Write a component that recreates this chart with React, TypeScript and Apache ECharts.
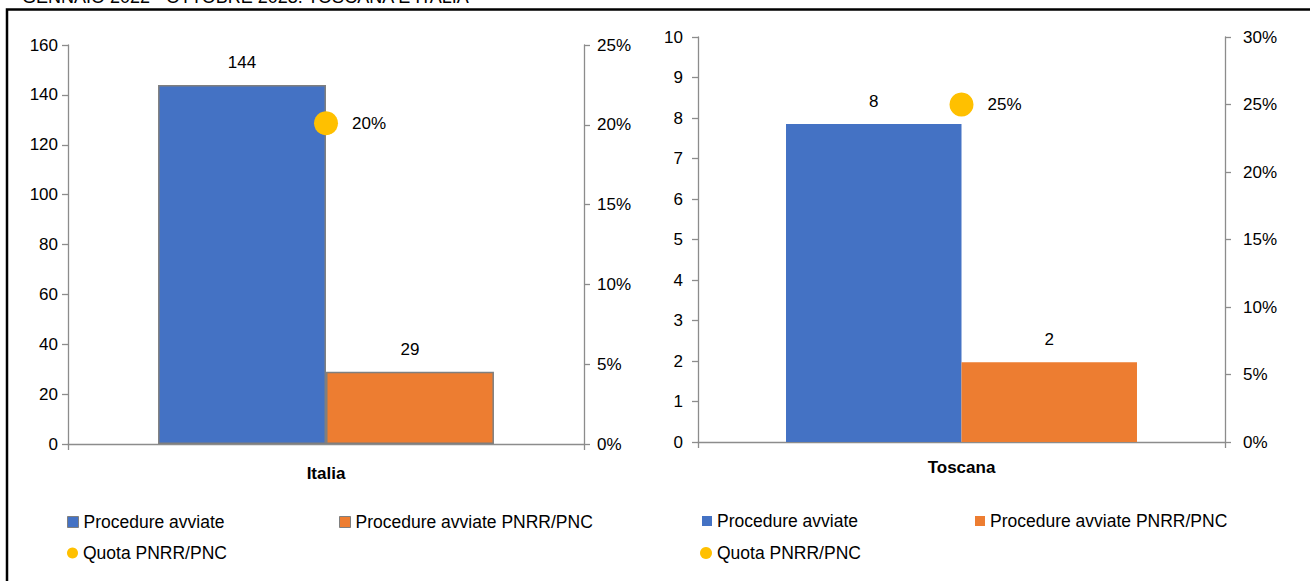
import React, { useEffect, useRef } from "react";
import * as echarts from "echarts";

const FONT = "'Liberation Sans', Arial, sans-serif";

const titleText = "GENNAIO 2022 - OTTOBRE 2023. TOSCANA E ITALIA";
const seriesNames = ["Procedure avviate", "Procedure avviate PNRR/PNC", "Quota PNRR/PNC"];

const italiaCategories = ["Italia"];
const italiaProcedure = [144];
const italiaPnrr = [29];
const italiaQuota = [0.201];

const toscanaCategories = ["Toscana"];
const toscanaProcedure = [7.85];
const toscanaPnrr = [1.97];
const toscanaQuota = [0.25];

const BLUE = "#4472C4";
const ORANGE = "#ED7D31";
const YELLOW = "#FFC000";
const AXIS = "#8c8c8c";

const pct = (v: number) => Math.round(v * 100) + "%";

function valueAxis(gridIndex: number, position: string, max: number, interval: number, isPct: boolean, margin: number) {
  return {
    type: "value",
    gridIndex,
    position,
    min: 0,
    max,
    interval,
    splitLine: { show: false },
    axisLine: { show: true, lineStyle: { color: AXIS, width: 1.3 } },
    axisTick: { show: true, length: 6, inside: false, lineStyle: { color: AXIS, width: 1.3 } },
    axisLabel: {
      color: "#000",
      fontSize: 17,
      fontFamily: FONT,
      margin,
      formatter: isPct ? (v: number) => pct(v) : (v: number) => String(v),
    },
  };
}

function catAxis(gridIndex: number, data: string[], margin: number) {
  return {
    type: "category",
    gridIndex,
    data,
    boundaryGap: true,
    axisLine: { show: true, lineStyle: { color: AXIS, width: 1.3 } },
    axisTick: { show: true, length: 6, alignWithLabel: false, lineStyle: { color: AXIS, width: 1.3 } },
    axisLabel: { color: "#000", fontSize: 17, fontWeight: "bold", fontFamily: FONT, margin },
  };
}

function barSeries(name: string, data: number[], color: string, axisIdx: number, yIdx: number, bordered: boolean, gap: string) {
  return {
    name,
    type: "bar",
    xAxisIndex: axisIdx,
    yAxisIndex: yIdx,
    data,
    barGap: "0%",
    barCategoryGap: gap,
    itemStyle: bordered
      ? { color, borderColor: "#7f7f7f", borderWidth: 1.5 }
      : { color, borderWidth: 0 },
    label: {
      show: true,
      position: "top",
      distance: 14,
      color: "#000",
      fontSize: 17,
      fontFamily: FONT,
      formatter: (p: any) => String(Math.round(p.value)),
    },
  };
}

function scatterSeries(data: number[], axisIdx: number, yIdx: number) {
  return {
    name: seriesNames[2],
    type: "scatter",
    xAxisIndex: axisIdx,
    yAxisIndex: yIdx,
    data,
    symbolSize: 24,
    itemStyle: { color: YELLOW, opacity: 1 },
    z: 5,
    label: {
      show: true,
      position: "right",
      distance: 14,
      color: "#000",
      opacity: 1,
      fontSize: 17,
      fontFamily: FONT,
      formatter: (p: any) => pct(p.value),
    },
  };
}

function legendItem(left: number, centerY: number, name: string, icon: string, itemStyle: any, size: number) {
  return {
    left,
    top: centerY - 9,
    padding: 0,
    selectedMode: false,
    itemWidth: size,
    itemHeight: size,
    data: [{ name, icon, itemStyle }],
    textStyle: { color: "#000", fontSize: 17.5, fontFamily: FONT, lineHeight: 18 },
  };
}

export default function App() {
  const ref = useRef<HTMLDivElement>(null);
  useEffect(() => {
    if (!ref.current) return;
    const chart = echarts.init(ref.current, undefined, { renderer: "svg" });
    const option: any = {
      animation: false,
      backgroundColor: "#ffffff",
      textStyle: { fontFamily: FONT },
      grid: [
        { left: 68, top: 45, width: 516, height: 399 },
        { left: 698, top: 37, width: 527, height: 405 },
      ],
      xAxis: [catAxis(0, italiaCategories, 21), catAxis(1, toscanaCategories, 17)],
      yAxis: [
        valueAxis(0, "left", 160, 20, false, 10),
        valueAxis(0, "right", 0.25, 0.05, true, 13),
        valueAxis(1, "left", 10, 1, false, 15),
        valueAxis(1, "right", 0.3, 0.05, true, 18),
      ],
      legend: [
        legendItem(67, 522, seriesNames[0], "rect", { color: BLUE, borderColor: "#7f7f7f", borderWidth: 1 }, 11),
        legendItem(339, 522, seriesNames[1], "rect", { color: ORANGE, borderColor: "#7f7f7f", borderWidth: 1 }, 11),
        legendItem(67, 553, seriesNames[2], "circle", { color: YELLOW, borderWidth: 0 }, 11),
        legendItem(702, 521, seriesNames[0], "rect", { color: BLUE, borderWidth: 0, borderColor: BLUE }, 10),
        legendItem(975, 521, seriesNames[1], "rect", { color: ORANGE, borderWidth: 0, borderColor: ORANGE }, 10),
        legendItem(700, 553, seriesNames[2], "circle", { color: YELLOW, borderWidth: 0 }, 12),
      ],
      graphic: [
        {
          type: "rect",
          z: -1,
          shape: { x: 7, y: 9.5, width: 1400, height: 700 },
          style: { fill: "none", stroke: "#000", lineWidth: 2.5 },
          silent: true,
        },
        {
          type: "text",
          x: 22,
          y: -3,
          style: {
            text: titleText,
            fontSize: 18,
            fontFamily: FONT,
            fill: "#000",
            verticalAlign: "middle",
          },
          silent: true,
        },
      ],
      series: [
        barSeries(seriesNames[0], italiaProcedure, BLUE, 0, 0, true, "34.9%"),
        barSeries(seriesNames[1], italiaPnrr, ORANGE, 0, 0, true, "34.9%"),
        scatterSeries(italiaQuota, 0, 1),
        barSeries(seriesNames[0], toscanaProcedure, BLUE, 1, 2, false, "33.4%"),
        barSeries(seriesNames[1], toscanaPnrr, ORANGE, 1, 2, false, "33.4%"),
        scatterSeries(toscanaQuota, 1, 3),
      ],
    };
    chart.setOption(option);
    return () => chart.dispose();
  }, []);
  return (
    <div
      ref={ref}
      style={{ position: "fixed", left: 0, top: 0, width: 1310, height: 581, background: "#fff" }}
    />
  );
}
